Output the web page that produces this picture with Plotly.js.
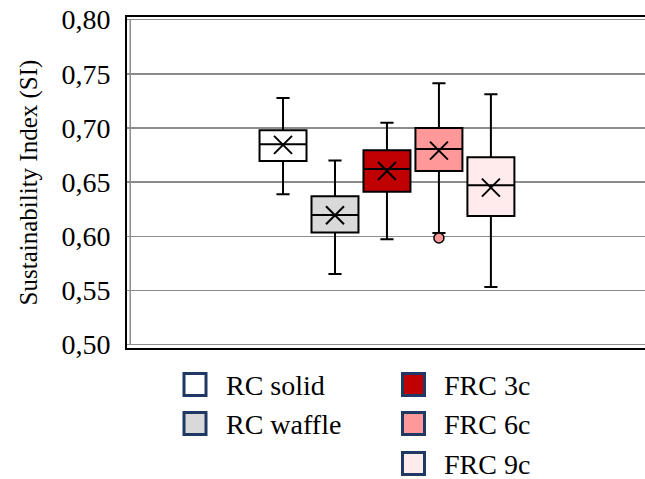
<!DOCTYPE html>
<html>
<head>
<meta charset="utf-8">
<script src="https://cdn.plot.ly/plotly-3.0.1.min.js"></script>
<style>html,body{margin:0;padding:0;background:#fff;}#chart{width:645px;height:479px;}</style>
</head>
<body>
<div id="chart"></div>
<script>
// ---- data ----
var seriesNames = ['RC solid', 'RC waffle', 'FRC 3c', 'FRC 6c', 'FRC 9c'];
var positions   = [1, 2, 3, 4, 5];
var lowerFence  = [0.6387, 0.5652, 0.5972, 0.6030, 0.5532];
var q1Values    = [0.6695, 0.6034, 0.6412, 0.6603, 0.6187];
var medians     = [0.6849, 0.6196, 0.6621, 0.6806, 0.6471];
var q3Values    = [0.6978, 0.6369, 0.6795, 0.6999, 0.6729];
var upperFence  = [0.7276, 0.6699, 0.7049, 0.7412, 0.7311];
var means       = [0.6844, 0.6194, 0.6603, 0.6791, 0.6449];
var outlierSeries = [3];          // index of series with an outlier
var outlierValues = [0.5984];
var tickValues  = [0.50, 0.55, 0.60, 0.65, 0.70, 0.75, 0.80];
var tickLabels  = ['0,50', '0,55', '0,60', '0,65', '0,70', '0,75', '0,80'];
var fillColors  = ['#FFFFFF', '#D9D9D9', '#C00000', '#FF9999', '#FFEBEB'];
var legendColumn = [0, 0, 1, 1, 1];
var legendRow    = [0, 1, 0, 1, 2];

var FONT = 'Liberation Serif';

var traces = [];
for (var i = 0; i < seriesNames.length; i++) {
  traces.push({
    type: 'box',
    name: seriesNames[i],
    x: [positions[i]],
    q1: [q1Values[i]],
    median: [medians[i]],
    q3: [q3Values[i]],
    lowerfence: [lowerFence[i]],
    upperfence: [upperFence[i]],
    boxpoints: false,
    width: 0.904,
    whiskerwidth: 0.28,
    fillcolor: fillColors[i],
    line: {color: '#000000', width: 2},
    showlegend: false,
    hoverinfo: 'skip'
  });
}
// mean markers
traces.push({
  type: 'scatter', mode: 'markers',
  x: positions, y: means,
  marker: {symbol: 'x-thin-open', size: 18, color: '#000', line: {color: '#000', width: 2}},
  showlegend: false, hoverinfo: 'skip'
});
// outliers
traces.push({
  type: 'scatter', mode: 'markers',
  x: outlierSeries.map(function (k) { return positions[k]; }),
  y: outlierValues,
  marker: {symbol: 'circle', size: 10, color: outlierSeries.map(function (k) { return fillColors[k]; }),
           line: {color: '#000', width: 1.5}},
  showlegend: false, hoverinfo: 'skip'
});

// pixel helpers for legend placement (paper coords)
var L = 127, R = 645, T = 17, B = 348;
function px(x) { return (x - L) / (R - L); }
function py(y) { return (B - y) / (B - T); }

var shapes = [
  // inner grey left frame line
  {type: 'line', xref: 'x', yref: 'y', x0: -1.94, x1: -1.94, y0: 0.50, y1: 0.80,
   line: {color: '#8c8c8c', width: 1.5}}
];
var annotations = [];
var colSquareX = [182.5, 401];
var colTextX = [224, 441.5];
var rowY = [384.5, 423.5, 463.5];
for (var j = 0; j < seriesNames.length; j++) {
  var c = legendColumn[j], r = legendRow[j];
  var cx = colSquareX[c], cy = rowY[r];
  shapes.push({type: 'rect', xref: 'paper', yref: 'paper',
    x0: px(cx + 1.5), x1: px(cx + 23.5), y0: py(cy - 11), y1: py(cy + 11),
    fillcolor: fillColors[j], line: {color: '#1F3864', width: 3}});
  annotations.push({xref: 'paper', yref: 'paper', x: px(colTextX[c]), y: py(cy + 1),
    xanchor: 'left', yanchor: 'middle', showarrow: false, text: seriesNames[j],
    font: {family: FONT, size: 28, color: '#000'}});
}

var layout = {
  width: 645, height: 479,
  margin: {l: L, r: 0, t: T, b: 479 - B, pad: 0},
  paper_bgcolor: '#fff', plot_bgcolor: '#fff',
  showlegend: false,
  font: {family: FONT, color: '#000'},
  xaxis: {
    type: 'linear', range: [-2.002, 7.965],
    showgrid: false, zeroline: false, showticklabels: false, ticks: '',
    showline: true, linecolor: '#000', linewidth: 2, mirror: true,
    fixedrange: true
  },
  yaxis: {
    range: [0.4969, 0.8024],
    tickvals: tickValues, ticktext: tickLabels,
    tickfont: {family: FONT, size: 28, color: '#000'},
    ticks: '', ticklabelstandoff: 9,
    showgrid: true, gridcolor: '#8c8c8c', gridwidth: 1.5,
    zeroline: false,
    showline: true, linecolor: '#000', linewidth: 2,
    title: {text: 'Sustainability Index (SI)', font: {family: FONT, size: 25, color: '#000'}, standoff: 17},
    automargin: false,
    fixedrange: true
  },
  shapes: shapes,
  annotations: annotations
};

Plotly.newPlot('chart', traces, layout, {displayModeBar: false, staticPlot: true});
</script>
</body>
</html>
